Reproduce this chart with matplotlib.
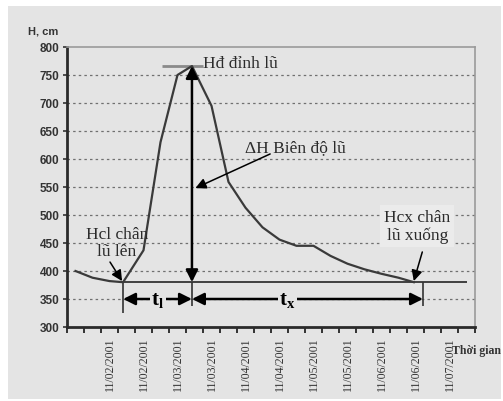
import matplotlib
matplotlib.use("Agg")
import matplotlib.pyplot as plt
from matplotlib.patches import Rectangle

# Water level hydrograph of one flood event (H in cm)
day = [0.5, 1.5, 2.5, 3.3, 4.5, 5.5, 6.5, 7.35, 8.5, 9.5, 10.5, 11.5,
       12.5, 13.5, 14.5, 15.5, 16.5, 17.5, 18.5, 19.5, 20.4]
level = [400, 388, 382, 380, 437, 630, 750, 766, 695, 559, 513, 478,
         456, 445, 445, 427, 413, 403, 395, 388, 380]

date_labels = ["11/02/2001", "11/02/2001", "11/03/2001", "11/03/2001",
               "11/04/2001", "11/04/2001", "11/05/2001", "11/05/2001",
               "11/06/2001", "11/06/2001", "11/07/2001"]
date_pos = [2.5, 4.5, 6.5, 8.5, 10.5, 12.5, 14.5, 16.5, 18.5, 20.5, 22.5]
y_ticks = [300, 350, 400, 450, 500, 550, 600, 650, 700, 750, 800]

# key points of the flood
rise_x, base_level = 3.3, 380          # Hcl - start of rise
peak_x, peak_level = 7.35, 766         # Hd - flood peak
fall_x = 20.4                          # Hcx - end of recession
tx_end = 20.94

BG = "#e4e4e4"
INK = "#2b2b2b"

plt.rcParams["font.family"] = ["Liberation Serif", "DejaVu Sans"]
plt.rcParams["mathtext.fontset"] = "custom"
plt.rcParams["mathtext.rm"] = "Liberation Serif"
plt.rcParams["mathtext.bf"] = "Liberation Serif:bold"
plt.rcParams["mathtext.it"] = "Liberation Serif:italic"

fig = plt.figure(figsize=(5.03, 4.02), dpi=100)
fig.patch.set_facecolor("white")
fig.add_artist(Rectangle((8 / 503, 2 / 402), 493 / 503, 393 / 402,
                         transform=fig.transFigure, facecolor=BG,
                         edgecolor="none", zorder=-10))

ax = fig.add_axes([67 / 503, 74 / 402, 408 / 503, 280 / 402])
ax.set_facecolor(BG)
ax.set_xlim(0, 24)
ax.set_ylim(300, 800)

for side in ("left", "bottom"):
    ax.spines[side].set_color("#2a2a2a")
    ax.spines[side].set_linewidth(2)
for side in ("top", "right"):
    ax.spines[side].set_color("#9a9a9a")
    ax.spines[side].set_linewidth(1.2)

# x axis: tick marks at day boundaries, rotated date labels between them
ax.set_xticks(range(0, 25))
ax.set_xticklabels([])
ax.set_xticks(date_pos, minor=True)
ax.set_xticklabels(date_labels, minor=True, rotation=90, fontsize=8.5,
                   color="#333333")
ax.tick_params(axis="x", which="major", length=4, width=1.4,
               color="#333333", direction="out")
ax.tick_params(axis="x", which="minor", length=0, pad=6.5)

ax.set_yticks(y_ticks)
ax.set_yticklabels([str(v) for v in y_ticks], fontsize=8.5,
                   fontweight="bold", family="Liberation Sans",
                   color="#333333")
ax.tick_params(axis="y", length=3, width=1.2, pad=2.5, color="#333333")

ax.hlines(y_ticks[1:-1], 0, 24, colors="#707070",
          linestyles=(0, (2, 2.5)), lw=0.9, zorder=1)

# hydrograph
ax.plot(day, level, color="#3a3a3a", lw=1.6, zorder=3)

# base level and time markers
ax.hlines(base_level, rise_x, 23.5, color="#333333", lw=1.3, zorder=2)
ax.vlines(rise_x, 325, base_level, color="#333333", lw=1.2, zorder=2)
ax.vlines(peak_x, 337, base_level, color="#333333", lw=1.2, zorder=2)
ax.vlines(tx_end, 337, base_level, color="#333333", lw=1.2, zorder=2)
ax.hlines(peak_level, 5.6, 8.0, color="#8a8a8a", lw=2, zorder=2)

arrow_kw = dict(color="black", lw=1.8, mutation_scale=18,
                shrinkA=0, shrinkB=0)
ax.annotate("", xy=(peak_x, peak_level), xytext=(peak_x, base_level),
            arrowprops=dict(arrowstyle="<|-|>", **arrow_kw), zorder=4)
ax.annotate("", xy=(rise_x, 350), xytext=(peak_x, 350),
            arrowprops=dict(arrowstyle="<|-|>", **arrow_kw), zorder=4)
ax.annotate("", xy=(peak_x, 350), xytext=(tx_end, 350),
            arrowprops=dict(arrowstyle="<|-|>", **arrow_kw), zorder=4)

lab_box = dict(facecolor=BG, edgecolor="none", pad=1.0)
ax.text(5.35, 349, r"$\mathbf{t}_{\mathbf{l}}$", fontsize=15, ha="center",
        va="center", color="black", bbox=lab_box, zorder=5)
ax.text(12.95, 349, r"$\mathbf{t}_{\mathbf{x}}$", fontsize=15, ha="center",
        va="center", color="black", bbox=lab_box, zorder=5)

# annotations
ax.text(8.0, 772, "Hđ đỉnh lũ", fontsize=12.5, ha="left", va="center",
        color=INK, zorder=5)
ax.text(10.45, 621, "ΔH Biên độ lũ", fontsize=12.5, ha="left", va="center",
        color=INK, zorder=5)
ax.annotate("", xy=(7.55, 548), xytext=(11.95, 609),
            arrowprops=dict(arrowstyle="-|>", color="black", lw=1.1,
                            mutation_scale=16, shrinkA=0, shrinkB=0),
            zorder=5)

ax.text(2.94, 451, "Hcl chân\nlũ lên", fontsize=12.5, ha="center",
        va="center", linespacing=1.1, color=INK, zorder=5)
ax.annotate("", xy=(3.24, 382), xytext=(2.53, 416),
            arrowprops=dict(arrowstyle="-|>", color="black", lw=1.1,
                            mutation_scale=16, shrinkA=0, shrinkB=0),
            zorder=5)

ax.text(20.6, 480, "Hcx chân\nlũ xuống", fontsize=12.5, ha="center",
        va="center", linespacing=1.1, color=INK, zorder=5,
        bbox=dict(facecolor="#ebebeb", edgecolor="none", pad=3))
ax.annotate("", xy=(20.4, 382), xytext=(20.9, 434),
            arrowprops=dict(arrowstyle="-|>", color="black", lw=1.1,
                            mutation_scale=16, shrinkA=0, shrinkB=0),
            zorder=6)

fig.text(43 / 503, 1 - 32 / 402, "H, cm", fontsize=8, fontweight="bold",
         family="Liberation Sans", color="#333333", ha="center", va="center")
fig.text(452 / 503, 1 - 351 / 402, "Thời gian", fontsize=8.5,
         fontweight="bold", color="#333333", ha="left", va="center")

fig.savefig("out.png", dpi=100, facecolor="white")
